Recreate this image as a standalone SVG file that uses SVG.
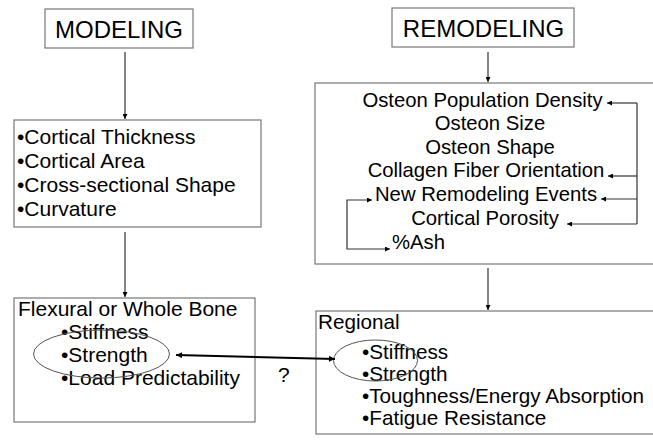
<svg xmlns="http://www.w3.org/2000/svg" width="653" height="442" viewBox="0 0 653 442">
<style>
.box{fill:#fff;stroke:#777;stroke-width:1.2}
.t{font-family:"Liberation Sans",Arial,sans-serif;font-size:20.3px;fill:#000}
.tl{font-family:"Liberation Sans",Arial,sans-serif;font-size:21px;fill:#000}
.tr{font-family:"Liberation Sans",Arial,sans-serif;font-size:20.7px;fill:#000}
.h{font-family:"Liberation Sans",Arial,sans-serif;font-size:24px;fill:#000}
.c{text-anchor:middle}
.ln{fill:none;stroke:#333;stroke-width:1.2}
.ell{fill:none;stroke:#555;stroke-width:1}
</style>
<defs>
<marker id="ah" viewBox="0 0 10 10" refX="10" refY="5" markerWidth="6" markerHeight="5" markerUnits="userSpaceOnUse" orient="auto-start-reverse">
<path d="M0,0 L10,5 L0,10 z" fill="#000"/>
</marker>
<marker id="ah2" viewBox="0 0 10 10" refX="10" refY="5" markerWidth="7" markerHeight="6" markerUnits="userSpaceOnUse" orient="auto-start-reverse">
<path d="M0,0 L10,5 L0,10 z" fill="#000"/>
</marker>
</defs>
<rect width="653" height="442" fill="#fff"/>

<g id="modeling">
<rect class="box" x="45" y="9" width="148" height="39"/>
<text class="h c" x="119" y="38">MODELING</text>
</g>

<g id="remodeling">
<rect class="box" x="392" y="8" width="182" height="39"/>
<text class="h c" x="483.5" y="37">REMODELING</text>
</g>

<g id="geometry">
<rect class="box" x="14" y="120" width="247" height="107"/>
<text class="tl" x="17" y="144">•Cortical Thickness</text>
<text class="tl" x="17" y="168">•Cortical Area</text>
<text class="tl" x="17" y="192">•Cross-sectional Shape</text>
<text class="tl" x="17" y="216">•Curvature</text>
</g>

<g id="microstructure">
<rect class="box" x="315" y="83" width="345" height="181"/>
<text class="t c" x="482.5" y="107">Osteon Population Density</text>
<text class="t c" x="490" y="130">Osteon Size</text>
<text class="t c" x="490" y="154">Osteon Shape</text>
<text class="t c" x="486" y="177">Collagen Fiber Orientation</text>
<text class="t c" x="486" y="201">New Remodeling Events</text>
<text class="t c" x="485" y="225">Cortical Porosity</text>
<text class="t" x="392" y="249">%Ash</text>
</g>

<g id="whole-bone">
<rect class="box" x="14" y="298" width="241" height="124"/>
<text class="tl" x="18" y="316">Flexural or Whole Bone</text>
<text class="tl" x="61" y="339">•Stiffness</text>
<text class="tl" x="61" y="362">•Strength</text>
<text class="tl" x="61" y="385">•Load Predictability</text>
<ellipse class="ell" cx="101.5" cy="354" rx="68" ry="24"/>
</g>

<g id="regional">
<rect class="box" x="316" y="311" width="345" height="123"/>
<text class="tr" x="318" y="329">Regional</text>
<text class="tr" x="362" y="359">•Stiffness</text>
<text class="tr" x="362" y="381">•Strength</text>
<text class="tr" x="362" y="403">•Toughness/Energy Absorption</text>
<text class="tr" x="362" y="425">•Fatigue Resistance</text>
<ellipse class="ell" cx="375.5" cy="360.5" rx="42" ry="20.5"/>
</g>

<g id="connectors">
<line class="ln" x1="125" y1="52" x2="125" y2="119" marker-end="url(#ah)"/>
<line class="ln" x1="125" y1="232" x2="125" y2="297" marker-end="url(#ah)"/>
<line class="ln" x1="488" y1="52" x2="488" y2="82" marker-end="url(#ah)"/>
<line class="ln" x1="488" y1="268" x2="488" y2="310" marker-end="url(#ah)"/>
<path class="ln" d="M637,103 V224"/>
<line class="ln" x1="637" y1="103" x2="607" y2="103" marker-end="url(#ah)"/>
<line class="ln" x1="637" y1="176" x2="608" y2="176" marker-end="url(#ah)"/>
<line class="ln" x1="637" y1="199" x2="601" y2="199" marker-end="url(#ah)"/>
<line class="ln" x1="637" y1="224" x2="567" y2="224" marker-end="url(#ah)"/>
<path class="ln" d="M372,200 H347 V249 H390" marker-start="url(#ah)" marker-end="url(#ah)"/>
<line x1="176" y1="355" x2="335" y2="359" stroke="#000" stroke-width="2" marker-start="url(#ah2)" marker-end="url(#ah2)"/>
<text class="tl" x="278" y="382">?</text>
</g>
</svg>
